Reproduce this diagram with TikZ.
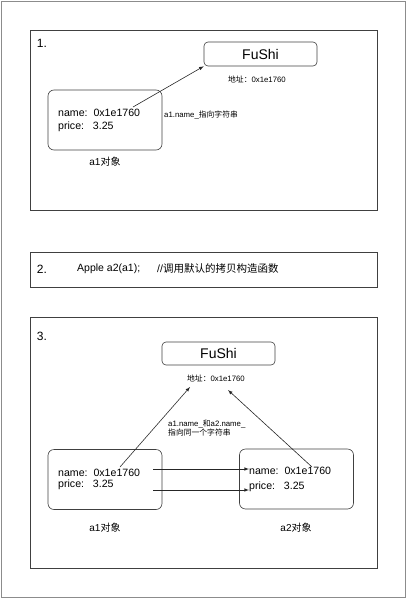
\documentclass[tikz,border=0pt]{standalone}
\usepackage{fontspec}
\setmainfont{Liberation Sans}
\newfontfamily\cjk{Noto Sans CJK SC}
\usetikzlibrary{arrows}
\tikzset{
  panel/.style={draw=black!75,line width=0.8pt,minimum width=347pt},
  membox/.style={draw=black!75,line width=0.6pt,rounded corners=6pt,minimum width=114pt,minimum height=60pt},
  strbox/.style={draw=black!75,line width=0.6pt,rounded corners=4pt,minimum width=113pt,minimum height=24pt,font=\fontsize{14}{16}\selectfont},
  field/.style={anchor=west,inner sep=0pt,font=\fontsize{10.6}{12}\selectfont},
  tiny/.style={inner sep=0pt,font=\fontsize{7.8}{9.5}\selectfont},
  caption/.style={inner sep=0pt,font=\fontsize{10}{12}\selectfont},
  num/.style={inner sep=0pt,font=\fontsize{12}{14}\selectfont},
  ptr/.style={draw=black!85,line width=0.6pt,-latex}
}
\def\fname{name:\ \ 0x1e1760}
\def\fprice{price:\ \ \ 3.25}
\def\addr{{\cjk 地址：}0x1e1760}
\begin{document}
\begin{tikzpicture}[x=1pt,y=-1pt]
    \useasboundingbox (0,0) rectangle (408,600);
    \draw[black!45] (1,1) rectangle (405,597);

    % 1.
    \node[panel,minimum height=180pt] (panelA) at (203.5,120) {};
    \node[num] (numA) at (42,43) {1.};
    \node[strbox] (strA) at (260.5,54) {FuShi};
    \node[tiny] (addrA) at (257,79) {\addr};
    \node[membox] (objA) at (105,120) {};
    \node[field] (nameA) at (58,113) {\fname};
    \node[field] (priceA) at (58,127) {\fprice};
    \node[caption] (capA) at (105,162) {a1{\cjk 对象}};
    \node[tiny,anchor=west] (noteA) at (164,115) {a1.name\_{\cjk 指向字符串}};
    \coordinate (ptrA) at (133,107);
    \draw[ptr] (ptrA) -- (strA.south west);

    % 2.
    \node[panel,minimum height=35pt] (panelB) at (203.5,269.5) {};
    \node[num] (numB) at (42,269) {2.};
    \node[field,font=\fontsize{10.5}{12}\selectfont] (codeB) at (77,269) {Apple a2(a1);};
    \node[field,font=\fontsize{10.5}{12}\selectfont] (commB) at (157,269) {//{\cjk 调用默认的拷贝构造函数}};

    % 3.
    \node[panel,minimum height=251pt] (panelC) at (203.5,442.5) {};
    \node[num] (numC) at (42,336) {3.};
    \node[strbox,minimum height=23pt] (strC) at (218.5,353.5) {FuShi};
    \node[tiny] (addrC) at (216,378) {\addr};
    \node[membox] (objC) at (105,479.5) {};
    \node[membox] (objD) at (296.5,479) {};
    \node[field] (nameC) at (58,473) {\fname};
    \node[field] (priceC) at (58,485) {\fprice};
    \node[field] (nameD) at (249,471) {\fname};
    \node[field] (priceD) at (249,487) {\fprice};
    \node[caption] (capC) at (105,528) {a1{\cjk 对象}};
    \node[caption] (capD) at (296,528) {a2{\cjk 对象}};
    \node[tiny,anchor=west,align=left] (noteC) at (168,428) {a1.name\_{\cjk 和}a2.name\_\\{\cjk 指向同一个字符串}};
    \coordinate (ptrC) at (120,467);
    \coordinate (ptrD) at (312,467);
    \coordinate (endC) at (190,387);
    \coordinate (endD) at (228,390);
    \coordinate (cpyN) at (153,469);
    \coordinate (cpyP) at (153,490);
    \draw[ptr] (ptrC) -- (endC);
    \draw[ptr] (ptrD) -- (endD);
    \draw[ptr] (cpyN) -- (cpyN -| nameD.west);
    \draw[ptr] (cpyP) -- (cpyP -| priceD.west);
\end{tikzpicture}
\end{document}
